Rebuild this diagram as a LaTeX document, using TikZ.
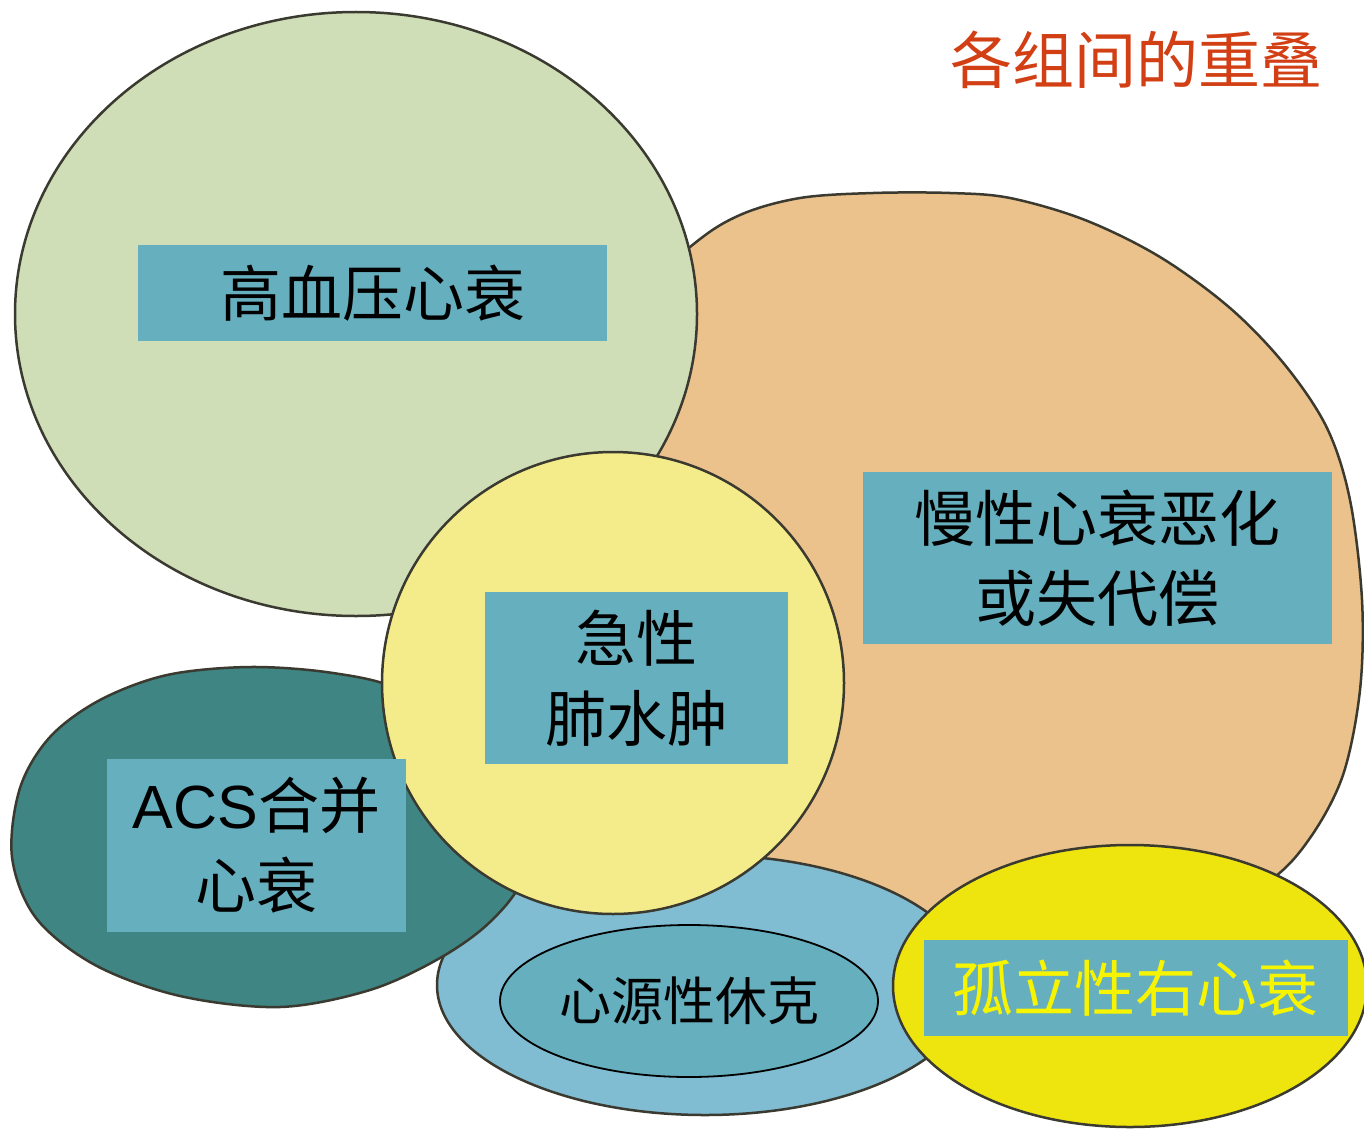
\documentclass[tikz,border=0pt]{standalone}
\usepackage{fontspec}
\setmainfont{Noto Sans CJK SC}
\newfontfamily\latfont{Liberation Sans}
\usetikzlibrary{shapes.geometric}
\definecolor{cgreen}{HTML}{D0DEB8}
\definecolor{corange}{HTML}{EBC28B}
\definecolor{cyellow}{HTML}{F4EC8A}
\definecolor{clblue}{HTML}{80BCD2}
\definecolor{cteal}{HTML}{3E8583}
\definecolor{cbyellow}{HTML}{EEE40E}
\definecolor{boxcol}{HTML}{66AFBE}
\definecolor{ctitle}{HTML}{D23F14}
\definecolor{edgecol}{HTML}{3B3A30}
\definecolor{ytext}{HTML}{F7F400}
\begin{document}
\begin{tikzpicture}[x=1pt,y=-1pt,
  blob/.style={draw=edgecol, line width=2.5pt},
  lbl/.style={fill=boxcol, inner sep=0pt, align=center, text=black,
    font=\fontsize{61}{80}\selectfont},
]
\fill[white] (0,0) rectangle (1364,1129);
\useasboundingbox (0,0) rectangle (1364,1129);
% chronic HF (orange)
\draw[blob, fill=corange] plot[smooth cycle, tension=0.55] coordinates {
  (690,247) (740,215) (800,198) (873,193) (950,193) (1010,198) (1085,220)
  (1160,257) (1230,308) (1285,365) (1327,428) (1350,500) (1362,600)
  (1360,690) (1343,775) (1310,838) (1268,882) (1180,930) (1000,935)
  (850,900) (720,830) (600,550) (600,330)};
% cardiogenic shock (light blue)
\draw[blob, fill=clblue] (705,985) ellipse [x radius=268, y radius=130];
% ACS (dark teal)
\draw[blob, fill=cteal] plot[smooth cycle, tension=0.55] coordinates {
  (12,857) (20,788) (50,737) (100,700) (167,675) (250,667) (333,673)
  (400,690) (470,740) (520,815) (522,878) (490,922) (440,958) (370,990)
  (280,1007) (180,996) (95,965) (36,918)};
% hypertension (green)
\draw[blob, fill=cgreen] (356,314) ellipse [x radius=341, y radius=302];
% acute pulmonary oedema (yellow)
\draw[blob, fill=cyellow] (613,683) ellipse [x radius=231, y radius=231];
% isolated right HF (bright yellow)
\draw[blob, fill=cbyellow] (1130,986) ellipse [x radius=237, y radius=141];

% labels
\node[lbl, minimum width=469pt, minimum height=96pt] (htn) at (372.5,293) {高血压心衰};
\node[lbl, minimum width=469pt, minimum height=172pt] (chf) at (1097.5,558) {慢性心衰恶化\\或失代偿};
\node[lbl, minimum width=303pt, minimum height=172pt] (apo) at (636.5,678) {急性\\肺水肿};
\node[lbl, minimum width=299pt, minimum height=173pt] (acs) at (256.5,845.5) {{\latfont ACS}合并\\心衰};
\node[lbl, text=ytext, minimum width=424pt, minimum height=96pt] (rhf) at (1135.5,988) {孤立性右心衰};
\node[ellipse, fill=boxcol, draw=black, line width=1.8pt, inner sep=0pt,
  minimum width=378pt, minimum height=152pt,
  font=\fontsize{52}{60}\selectfont] (shock) at (689,1001) {心源性休克};
\node[text=ctitle, inner sep=0pt, font=\fontsize{62}{70}\selectfont] (title) at (1136,60) {各组间的重叠};
\end{tikzpicture}
\end{document}
